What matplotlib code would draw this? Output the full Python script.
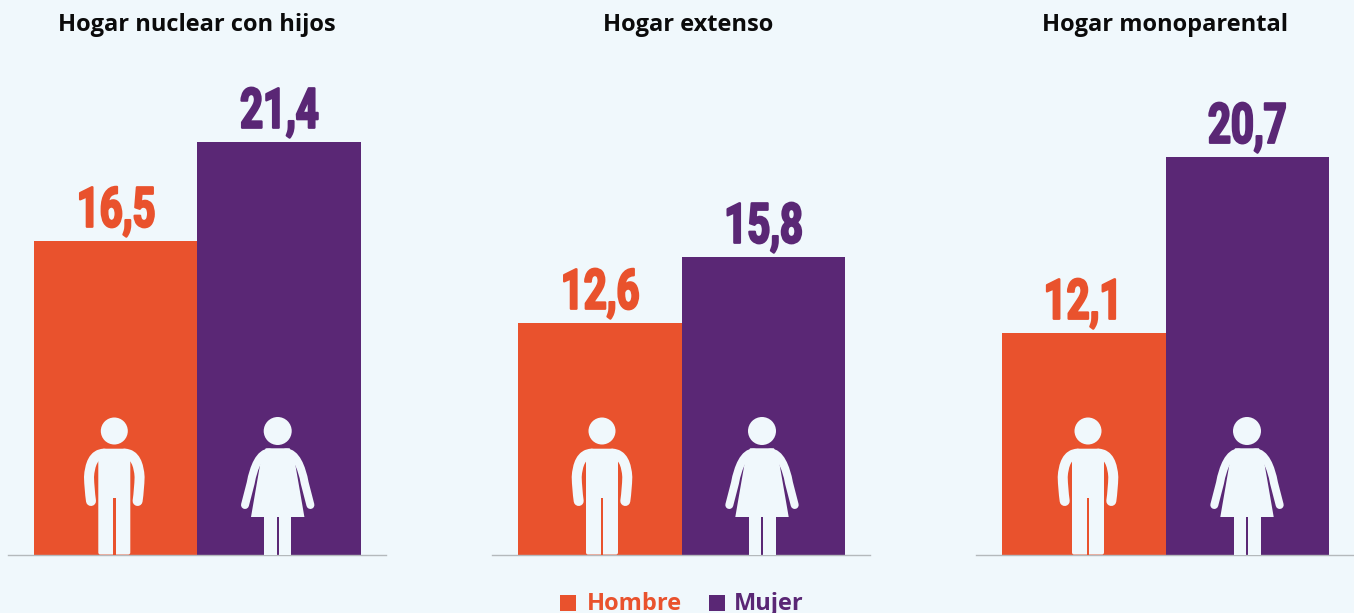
import matplotlib
matplotlib.use("Agg")
import matplotlib.pyplot as plt
from matplotlib.patches import Circle, FancyBboxPatch, PathPatch, Polygon, Rectangle
from matplotlib.patheffects import AbstractPathEffect
from matplotlib.path import Path
from matplotlib.transforms import Affine2D

W, H = 1354, 613
DPI = 100

BG = "#f0f8fc"
ORANGE = "#e9522d"
PURPLE = "#5a2775"
LINE = "#b4b9bc"

titles = ["Hogar nuclear con hijos", "Hogar extenso", "Hogar monoparental"]
hombre_labels = ["16,5", "12,6", "12,1"]
mujer_labels = ["21,4", "15,8", "20,7"]
# bar heights, they do not follow the labels exactly
hombre_heights = [16.27, 12.02, 11.50]
mujer_heights = [21.40, 15.44, 20.62]

Y_MAX = 28.76
NUM_FONT = ["Roboto", "DejaVu Sans"]
TXT_FONT = ["Open Sans", "DejaVu Sans"]


class Condensed(AbstractPathEffect):
    # squeeze a text horizontally around its middle, no condensed font is installed
    def __init__(self, sx, stroke=0.0):
        super().__init__()
        self.sx = sx
        self.stroke = stroke

    def draw_path(self, renderer, gc, tpath, affine, rgbFace=None):
        ext = tpath.get_extents()
        mid = (ext.x0 + ext.x1) / 2
        squeeze = Affine2D().translate(-mid, 0).scale(self.sx, 1).translate(mid, 0)
        gc0 = renderer.new_gc()
        gc0.copy_properties(gc)
        gc0.set_foreground(rgbFace)
        gc0.set_linewidth(self.stroke)
        renderer.draw_path(gc0, tpath, squeeze + affine, rgbFace)
        gc0.restore()


def px(v):
    return v * 72 / DPI


def draw_stroke(ov, verts, codes, cx, cy, lw, sign=1):
    pts = [(cx + sign * x, cy + y) for x, y in verts]
    ov.add_patch(PathPatch(Path(pts, codes), fc="none", ec=BG, lw=px(lw),
                           capstyle="round", joinstyle="round"))


def draw_man(ov, cx, cy):
    ov.add_patch(Circle((cx, cy), 13.5, fc=BG, ec="none"))
    ov.add_patch(FancyBboxPatch((cx - 16, cy + 24), 32, 99.5, boxstyle="round,pad=0,rounding_size=2",
                                fc=BG, ec="none"))
    ov.add_patch(FancyBboxPatch((cx - 14, cy + 17.7), 28, 20, boxstyle="round,pad=0,rounding_size=4",
                                fc=BG, ec="none"))
    # gap between the legs
    ov.add_patch(Rectangle((cx - 1.2, cy + 66.7), 2.4, 57, fc=ORANGE, ec="none"))
    verts = [(-10, 22.7), (-21, 22.7), (-24.5, 34), (-25.3, 46), (-25, 58), (-23.3, 70)]
    codes = [Path.MOVETO, Path.CURVE4, Path.CURVE4, Path.CURVE4, Path.CURVE3, Path.CURVE3]
    for sign in (1, -1):
        draw_stroke(ov, verts, codes, cx, cy, 10, sign=sign)


def draw_woman(ov, cx, cy):
    ov.add_patch(Circle((cx, cy), 14, fc=BG, ec="none"))
    dress = [(-12, 17.3), (12, 17.3), (17, 30), (26.7, 86), (-26.7, 86), (-17, 30)]
    ov.add_patch(Polygon([(cx + x, cy + y) for x, y in dress], fc=BG, ec="none"))
    for x0 in (-13.3, 1.3):
        ov.add_patch(Rectangle((cx + x0, cy + 85), 12.2, 38.5, fc=BG, ec="none"))
    verts = [(-8, 21.5), (-18, 21.5), (-24, 36), (-27, 52), (-32.7, 74)]
    codes = [Path.MOVETO, Path.CURVE4, Path.CURVE4, Path.CURVE4, Path.LINETO]
    for sign in (1, -1):
        draw_stroke(ov, verts, codes, cx, cy, 8, sign=sign)


fig = plt.figure(figsize=(W / DPI, H / DPI), dpi=DPI, facecolor=BG)

panel_left = [8, 492, 976]
panel_mid = [197.5, 681.5, 1165.5]
panel_width = 378
bar_w = 163.5
base_y = 555

for i in range(3):
    ax = fig.add_axes([panel_left[i] / W, (H - base_y) / H, panel_width / W, base_y / H])
    ax.set_facecolor("none")
    ax.set_xlim((panel_left[i] - panel_mid[i]) / bar_w,
                (panel_left[i] + panel_width - panel_mid[i]) / bar_w)
    ax.set_ylim(0, Y_MAX)
    ax.bar([-0.5, 0.5], [hombre_heights[i], mujer_heights[i]], width=1, color=[ORANGE, PURPLE])
    for x, h, lab, c in [(-0.5, hombre_heights[i], hombre_labels[i], ORANGE),
                         (0.5, mujer_heights[i], mujer_labels[i], PURPLE)]:
        ax.text(x, h + 0.74, lab, ha="center", va="baseline", color=c, fontsize=40,
                fontweight="bold", family=NUM_FONT, path_effects=[Condensed(0.72, 1.6)])
    ax.set_xticks([])
    ax.set_yticks([])
    for s in ("top", "left", "right"):
        ax.spines[s].set_visible(False)
    ax.spines["bottom"].set_color(LINE)
    ax.spines["bottom"].set_linewidth(1)

# overlay in picture pixels for titles, icons and the legend
ov = fig.add_axes([0, 0, 1, 1])
ov.set_xlim(0, W)
ov.set_ylim(H, 0)
ov.axis("off")
ov.patch.set_alpha(0)

title_x = [196.5, 688, 1164.5]
for x, t in zip(title_x, titles):
    ov.text(x, 31, t, ha="center", va="baseline", fontsize=17, fontweight="bold",
            color="#0b0b0b", family=TXT_FONT)

man_x = [114.3, 602, 1088]
woman_x = [277.7, 762, 1247]
for x in man_x:
    draw_man(ov, x, 431)
for x in woman_x:
    draw_woman(ov, x, 431)

ov.add_patch(Rectangle((560, 595), 16, 16, fc=ORANGE, ec="none"))
ov.text(587, 610, "Hombre", ha="left", va="baseline", fontsize=17, fontweight="bold",
        color=ORANGE, family=TXT_FONT)
ov.add_patch(Rectangle((709, 595), 16, 16, fc=PURPLE, ec="none"))
ov.text(734, 610, "Mujer", ha="left", va="baseline", fontsize=17, fontweight="bold",
        color=PURPLE, family=TXT_FONT)

fig.savefig("out.png", dpi=DPI, facecolor=BG)
